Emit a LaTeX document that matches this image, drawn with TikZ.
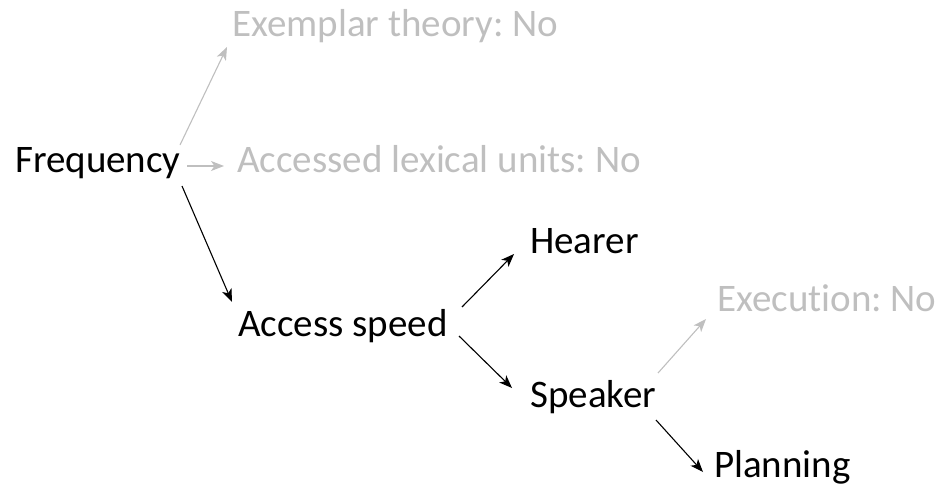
\documentclass[tikz,border=0pt]{standalone}
\usepackage{fontspec}
\setmainfont[RawFeature=-liga]{Carlito}
\usetikzlibrary{arrows.meta}
\definecolor{muted}{HTML}{BFBFBF}
\frenchspacing
\tikzset{
  lbl/.style={anchor=base west, inner sep=0pt, font=\fontsize{39}{45}\selectfont},
  off/.style={lbl, text=muted},
  arr/.style={line width=1.1pt, -{Stealth[length=13pt, width=10pt, inset=3.5pt]}},
  offarr/.style={arr, draw=muted}
}
\begin{document}
\begin{tikzpicture}[x=1pt, y=-1pt]
  \useasboundingbox (0,0) rectangle (941,501);
  % concepts
  \node[lbl] (freq) at (15,172) {Frequency};
  \node[off] (ex)   at (232,36) {Exemplar theory: No};
  \node[off] (acc)  at (237,172) {Accessed lexical units: No};
  \node[lbl] (asp)  at (238,336) {Access speed};
  \node[lbl] (hear) at (530,253) {Hearer};
  \node[lbl] (spk)  at (530,407) {Speaker};
  \node[off] (exe)  at (717,311) {Execution: No};
  \node[lbl] (plan) at (714,477) {Planning};
  % links
  \draw[offarr] ([shift={(165,-27)}]freq.base west) -- ([shift={(-5,11)}]ex.base west);
  \draw[offarr] ([shift={(172,-6)}]freq.base west) -- ([shift={(-13,-6)}]acc.base west);
  \draw[arr] ([shift={(167,14)}]freq.base west) -- ([shift={(-6,-34)}]asp.base west);
  \draw[arr] ([shift={(224,-29)}]asp.base west) -- ([shift={(-16,1)}]hear.base west);
  \draw[arr] ([shift={(221,0)}]asp.base west) -- ([shift={(-18,-19)}]spk.base west);
  \draw[offarr] ([shift={(128,-34)}]spk.base west) -- ([shift={(-11,8)}]exe.base west);
  \draw[arr] ([shift={(126,13)}]spk.base west) -- ([shift={(-11,-5)}]plan.base west);
\end{tikzpicture}
\end{document}
